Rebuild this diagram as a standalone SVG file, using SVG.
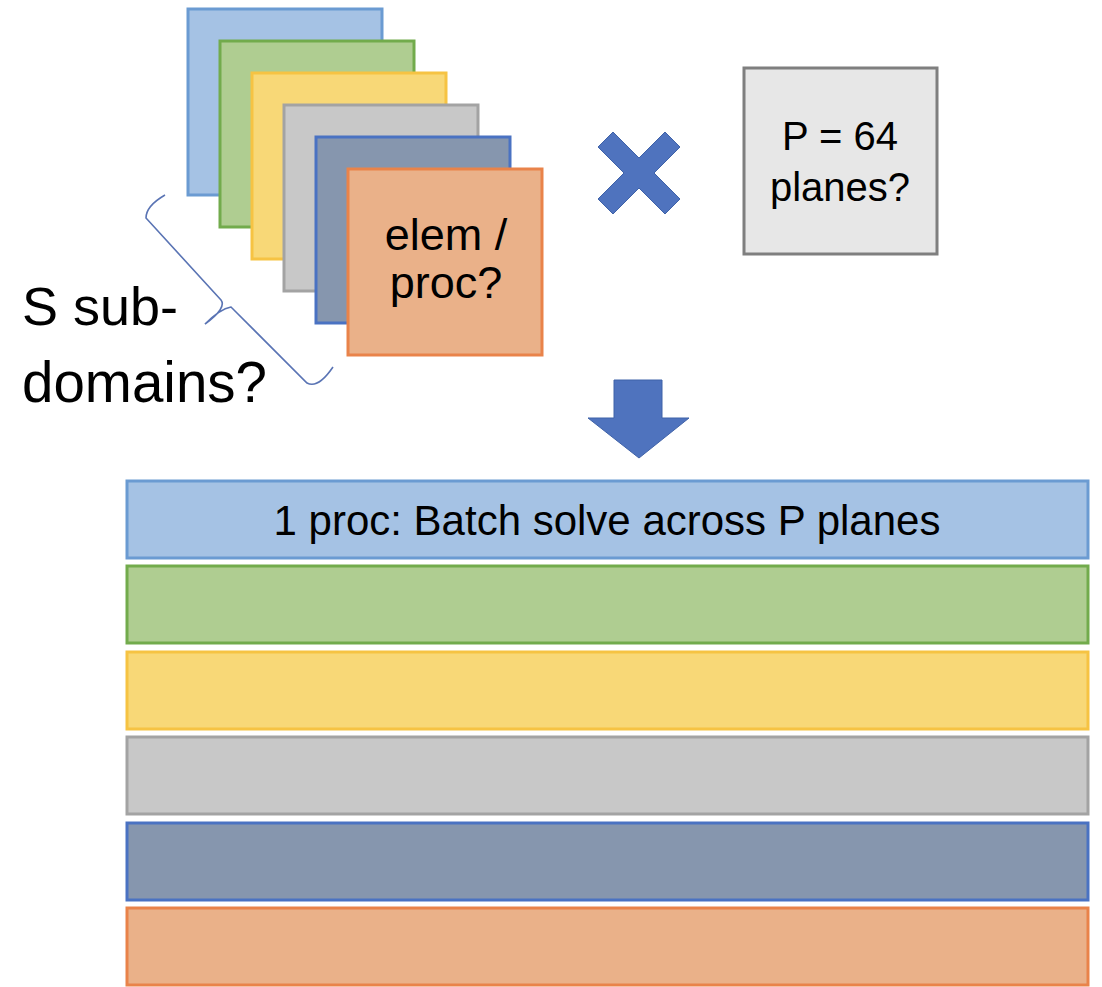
<svg xmlns="http://www.w3.org/2000/svg" width="1102" height="987" viewBox="0 0 1102 987">
  <style>
    .t { font-family: "Liberation Sans", Arial, sans-serif; fill: #000; text-anchor: middle; }
    .ts { font-family: "Liberation Sans", Arial, sans-serif; fill: #000; text-anchor: start; }
    .blue { fill: #a5c2e4; stroke: #6b9bd2; stroke-width: 3; }
    .green { fill: #afcd91; stroke: #72ab4c; stroke-width: 3; }
    .yellow { fill: #f8d877; stroke: #f6c343; stroke-width: 3; }
    .gray { fill: #c8c8c8; stroke: #a3a3a3; stroke-width: 3; }
    .dark { fill: #8696ae; stroke: #4a72c2; stroke-width: 3; }
    .orange { fill: #eab189; stroke: #e9834a; stroke-width: 3; }
    .op { fill: #4f73be; stroke: #3f62a8; stroke-width: 1; }
  </style>
  <rect width="1102" height="987" fill="#ffffff"/>

  <g id="stack">
    <rect id="sq-blue" class="blue" x="188" y="9" width="194" height="186"/>
    <rect id="sq-green" class="green" x="220" y="41" width="194" height="186"/>
    <rect id="sq-yellow" class="yellow" x="252" y="73" width="194" height="186"/>
    <rect id="sq-gray" class="gray" x="284" y="105" width="194" height="186"/>
    <rect id="sq-dark" class="dark" x="316" y="137" width="194" height="186"/>
    <g id="sq-orange">
      <rect class="orange" x="348" y="169" width="194" height="186"/>
      <text class="t" x="446" y="250" font-size="45">elem /</text>
      <text class="t" x="446" y="298" font-size="45">proc?</text>
    </g>
  </g>

  <g id="subdomains-label">
    <path d="M165,195 Q146,206 146,218 L221,300 Q227,308 205,324 Q220,309 231,307 L307,383 Q318,389 333,367" fill="none" stroke="#5a74b4" stroke-width="1.6"/>
    <text class="ts" x="22" y="325" font-size="54">S sub-</text>
    <text class="ts" x="22" y="402" font-size="56.5">domains?</text>
  </g>

  <g id="times">
    <polygon class="op" points="665,132 680,147 654,173 680,199 665,214 639,188 613,214 598,199 624,173 598,147 613,132 639,158"/>
  </g>

  <g id="planes">
    <rect x="744" y="68" width="193" height="186" fill="#e7e7e7" stroke="#7f7f7f" stroke-width="3"/>
    <text class="t" x="840" y="150" font-size="40">P = 64</text>
    <text class="t" x="840" y="201" font-size="40">planes?</text>
  </g>

  <g id="connectors">
    <polygon class="op" points="614,380 662,380 662,418 689,418 639,458 588,418 614,418"/>
  </g>

  <g id="bars">
    <g id="bar-blue">
      <rect class="blue" x="127" y="481" width="961" height="77"/>
      <text class="t" x="607" y="535" font-size="42">1 proc: Batch solve across P planes</text>
    </g>
    <rect id="bar-green" class="green" x="127" y="566" width="961" height="77"/>
    <rect id="bar-yellow" class="yellow" x="127" y="652" width="961" height="77"/>
    <rect id="bar-gray" class="gray" x="127" y="737" width="961" height="77"/>
    <rect id="bar-dark" class="dark" x="127" y="823" width="961" height="77"/>
    <rect id="bar-orange" class="orange" x="127" y="908" width="961" height="77"/>
  </g>
</svg>
